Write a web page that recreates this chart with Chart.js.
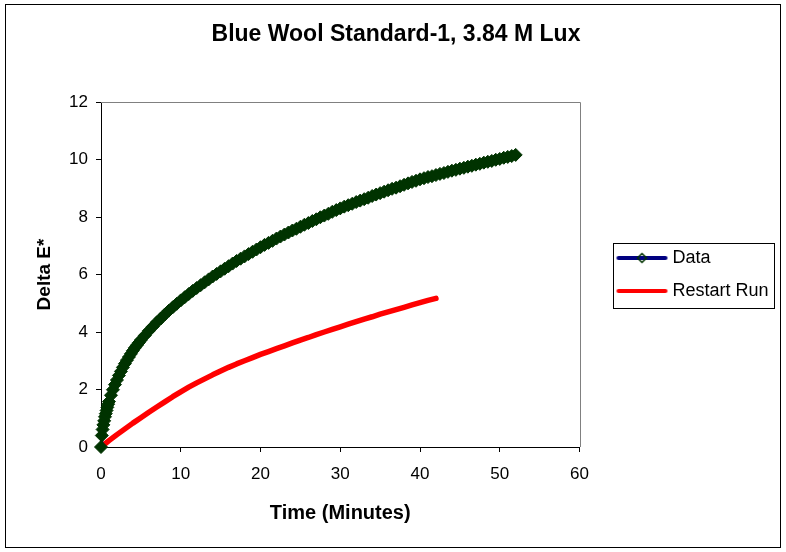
<!DOCTYPE html>
<html>
<head>
<meta charset="utf-8">
<title>Blue Wool Standard-1</title>
<script src="https://cdn.jsdelivr.net/npm/chart.js@4/dist/chart.umd.min.js"></script>
<style>
  html, body { margin: 0; padding: 0; background: #fff; }
  #wrap { width: 786px; height: 552px; }
</style>
</head>
<body>
<div id="wrap"><canvas id="bwChart" width="786" height="552"></canvas></div>
<script>
// Blue Wool Standard-1 fade, Delta E* against exposure time (minutes)
const dataTime = [
    0, 0.1, 0.2, 0.3, 0.4, 0.5, 0.6, 0.7, 0.8, 0.9, 1.0,
    1.25, 1.5, 1.75, 2.0, 2.25, 2.5, 2.75, 3.0, 3.25, 3.5, 3.75, 4.0, 4.25, 4.5, 4.75, 5.0,
    5.5, 6, 6.5, 7, 7.5, 8, 8.5, 9, 9.5, 10,
    10.5, 11, 11.5, 12, 12.5, 13, 13.5, 14, 14.5, 15,
    15.5, 16, 16.5, 17, 17.5, 18, 18.5, 19, 19.5, 20,
    20.5, 21, 21.5, 22, 22.5, 23, 23.5, 24, 24.5, 25,
    25.5, 26, 26.5, 27, 27.5, 28, 28.5, 29, 29.5, 30,
    30.5, 31, 31.5, 32, 32.5, 33, 33.5, 34, 34.5, 35,
    35.5, 36, 36.5, 37, 37.5, 38, 38.5, 39, 39.5, 40,
    40.5, 41, 41.5, 42, 42.5, 43, 43.5, 44, 44.5, 45,
    45.5, 46, 46.5, 47, 47.5, 48, 48.5, 49, 49.5, 50,
    50.5, 51, 51.5, 52,
];
const dataDeltaE = [
    0, 0.40, 0.61, 0.77, 0.91, 1.05, 1.16, 1.27, 1.38, 1.49, 1.58,
    1.80, 1.99, 2.17, 2.33, 2.49, 2.63, 2.77, 2.90, 3.02, 3.13, 3.24, 3.35, 3.45, 3.54, 3.63, 3.72,
    3.88, 4.04, 4.19, 4.34, 4.47, 4.61, 4.74, 4.86, 4.98, 5.10,
    5.21, 5.32, 5.43, 5.53, 5.63, 5.73, 5.83, 5.93, 6.02, 6.11,
    6.20, 6.29, 6.38, 6.47, 6.55, 6.63, 6.71, 6.79, 6.87, 6.95,
    7.03, 7.10, 7.17, 7.25, 7.32, 7.39, 7.46, 7.53, 7.59, 7.66,
    7.73, 7.79, 7.86, 7.92, 7.99, 8.05, 8.11, 8.18, 8.24, 8.30,
    8.36, 8.41, 8.46, 8.52, 8.57, 8.62, 8.67, 8.73, 8.78, 8.83,
    8.88, 8.93, 8.98, 9.02, 9.07, 9.12, 9.17, 9.22, 9.26, 9.31,
    9.35, 9.39, 9.42, 9.46, 9.50, 9.53, 9.57, 9.61, 9.64, 9.68,
    9.71, 9.75, 9.78, 9.82, 9.85, 9.89, 9.92, 9.95, 9.99, 10.02,
    10.06, 10.09, 10.12, 10.16,
];

const restartTime = [
    0, 1, 2, 3, 4, 5, 6, 7, 8, 9, 10,
    11, 12, 13, 14, 15, 16, 17, 18, 19, 20,
    21, 22, 23, 24, 25, 26, 27, 28, 29, 30,
    31, 32, 33, 34, 35, 36, 37, 38, 39, 40,
    41, 42,
];
const restartDeltaE = [
    0, 0.22, 0.43, 0.63, 0.83, 1.02, 1.21, 1.39, 1.57, 1.75, 1.92,
    2.08, 2.23, 2.37, 2.51, 2.64, 2.77, 2.89, 3.00, 3.11, 3.22,
    3.32, 3.42, 3.52, 3.62, 3.72, 3.81, 3.91, 4.00, 4.09, 4.18,
    4.27, 4.36, 4.45, 4.53, 4.62, 4.70, 4.78, 4.86, 4.94, 5.02,
    5.10, 5.17,
];

const seriesNames = ['Data', 'Restart Run'];
const xTicks = { min: 0, max: 60, step: 10 };
const yTicks = { min: 0, max: 12, step: 2 };

const FONT = "'Liberation Sans', Arial, sans-serif";
const NAVY = '#000080';
const DKGREEN = '#003300';
const RED = '#ff0000';

const zip = (xs, ys) => xs.map((x, i) => ({ x, y: ys[i] }));

// Legend swatches. The legend box is 69 wide (it also pads the gap between
// plot and legend); the image is centred on it, so its line sits to the right.
const SWATCH_BOX = 69;
function swatch(color, withDiamond) {
    const c = document.createElement('canvas');
    c.width = 81; c.height = 12;
    const g = c.getContext('2d');
    g.strokeStyle = color;
    g.lineWidth = 4;
    g.lineCap = 'round';
    g.beginPath(); g.moveTo(30, 6); g.lineTo(77, 6); g.stroke();
    if (withDiamond) {
        g.beginPath();
        g.moveTo(53.5, 1.5); g.lineTo(58, 6); g.lineTo(53.5, 10.5); g.lineTo(49, 6); g.closePath();
        g.lineWidth = 1.5;
        g.strokeStyle = DKGREEN;
        g.stroke();
    }
    return c;
}
const swatches = [swatch(NAVY, true), swatch(RED, false)];

const framePlugin = {
    id: 'frame',
    afterLayout(chart) {
        // the title sits a little right of the canvas centre
        if (chart.titleBlock) chart.titleBlock.left += 16;
    },
    beforeDraw(chart) {
        const ctx = chart.ctx;
        ctx.save();
        ctx.fillStyle = '#fff';
        ctx.fillRect(0, 0, chart.width, chart.height);
        ctx.restore();
    },
    beforeDatasetsDraw(chart) {
        // plot area edges on top and right
        const { ctx, chartArea: a } = chart;
        ctx.save();
        ctx.strokeStyle = '#808080';
        ctx.lineWidth = 1;
        ctx.beginPath();
        ctx.moveTo(a.left, Math.round(a.top) + 0.5);
        ctx.lineTo(Math.round(a.right) + 0.5, Math.round(a.top) + 0.5);
        ctx.lineTo(Math.round(a.right) + 0.5, a.bottom);
        ctx.stroke();
        ctx.restore();
    },
    afterDraw(chart) {
        const ctx = chart.ctx;
        ctx.save();
        ctx.strokeStyle = '#000';
        ctx.lineWidth = 1;
        ctx.strokeRect(5.5, 4.5, 775, 543);
        // box round the legend
        const hb = chart.legend && chart.legend.legendHitBoxes;
        if (hb && hb.length) {
            const left = Math.round(hb[0].left + 18) + 0.5;
            const right = Math.round(Math.max(...hb.map(h => h.left + h.width)) + 5) + 0.5;
            const top = Math.round(hb[0].top + 9 - 15) + 0.5;
            const bottom = Math.round(hb[hb.length - 1].top + 9 + 17) + 0.5;
            ctx.strokeRect(left, top, right - left, bottom - top);
        }
        ctx.restore();
    },
};

new Chart(document.getElementById('bwChart'), {
    type: 'scatter',
    data: {
        datasets: [
            {
                label: seriesNames[0],
                data: zip(dataTime, dataDeltaE),
                showLine: true,
                borderColor: NAVY,
                borderWidth: 3,
                pointStyle: 'rectRot',
                pointRadius: 6.5,
                pointBorderWidth: 1,
                pointBackgroundColor: DKGREEN,
                pointBorderColor: DKGREEN,
                clip: false,
            },
            {
                label: seriesNames[1],
                data: zip(restartTime, restartDeltaE),
                showLine: true,
                borderColor: RED,
                borderWidth: 5.5,
                borderCapStyle: 'round',
                borderJoinStyle: 'round',
                pointRadius: 0,
                clip: false,
            },
        ],
    },
    options: {
        responsive: false,
        animation: false,
        devicePixelRatio: 1,
        layout: { padding: { top: 5, left: 5, bottom: 5, right: 15 } },
        plugins: {
            tooltip: { enabled: false },
            title: {
                display: true,
                text: 'Blue Wool Standard-1, 3.84 M Lux',
                color: '#000',
                font: { family: FONT, size: 23, weight: 'bold', lineHeight: 1.2 },
                padding: { top: 16, bottom: 53.4 },
            },
            legend: {
                position: 'right',
                fullSize: false,
                labels: {
                    usePointStyle: true,
                    pointStyleWidth: SWATCH_BOX,
                    padding: 15,
                    color: '#000',
                    font: { family: FONT, size: 18 },
                    generateLabels: () => seriesNames.map((name, i) => ({
                        text: name,
                        pointStyle: swatches[i],
                        fillStyle: 'transparent',
                        strokeStyle: 'transparent',
                        lineWidth: 0,
                        hidden: false,
                        datasetIndex: i,
                        fontColor: '#000',
                    })),
                },
            },
        },
        scales: {
            x: {
                type: 'linear',
                min: xTicks.min,
                max: xTicks.max,
                afterFit(s) { s.height = 100; },
                ticks: {
                    stepSize: xTicks.step,
                    color: '#000',
                    padding: 12,
                    font: { family: FONT, size: 17 },
                },
                grid: { display: true, drawOnChartArea: false, tickLength: 5, color: '#000' },
                border: { display: true, color: '#000', width: 1 },
                title: {
                    display: true,
                    text: 'Time (Minutes)',
                    color: '#000',
                    font: { family: FONT, size: 20, weight: 'bold', lineHeight: 1.2 },
                    padding: { top: 4, bottom: 22 },
                },
            },
            y: {
                type: 'linear',
                min: yTicks.min,
                max: yTicks.max,
                afterFit(s) { s.width = 96; },
                ticks: {
                    stepSize: yTicks.step,
                    color: '#000',
                    padding: 8,
                    font: { family: FONT, size: 17 },
                },
                grid: { display: true, drawOnChartArea: false, tickLength: 5, color: '#000' },
                border: { display: true, color: '#000', width: 1 },
                title: {
                    display: true,
                    text: 'Delta E*',
                    color: '#000',
                    font: { family: FONT, size: 19, weight: 'bold', lineHeight: 1.2 },
                    padding: { top: 28, bottom: 4 },
                },
            },
        },
    },
    plugins: [framePlugin],
});
</script>
</body>
</html>
